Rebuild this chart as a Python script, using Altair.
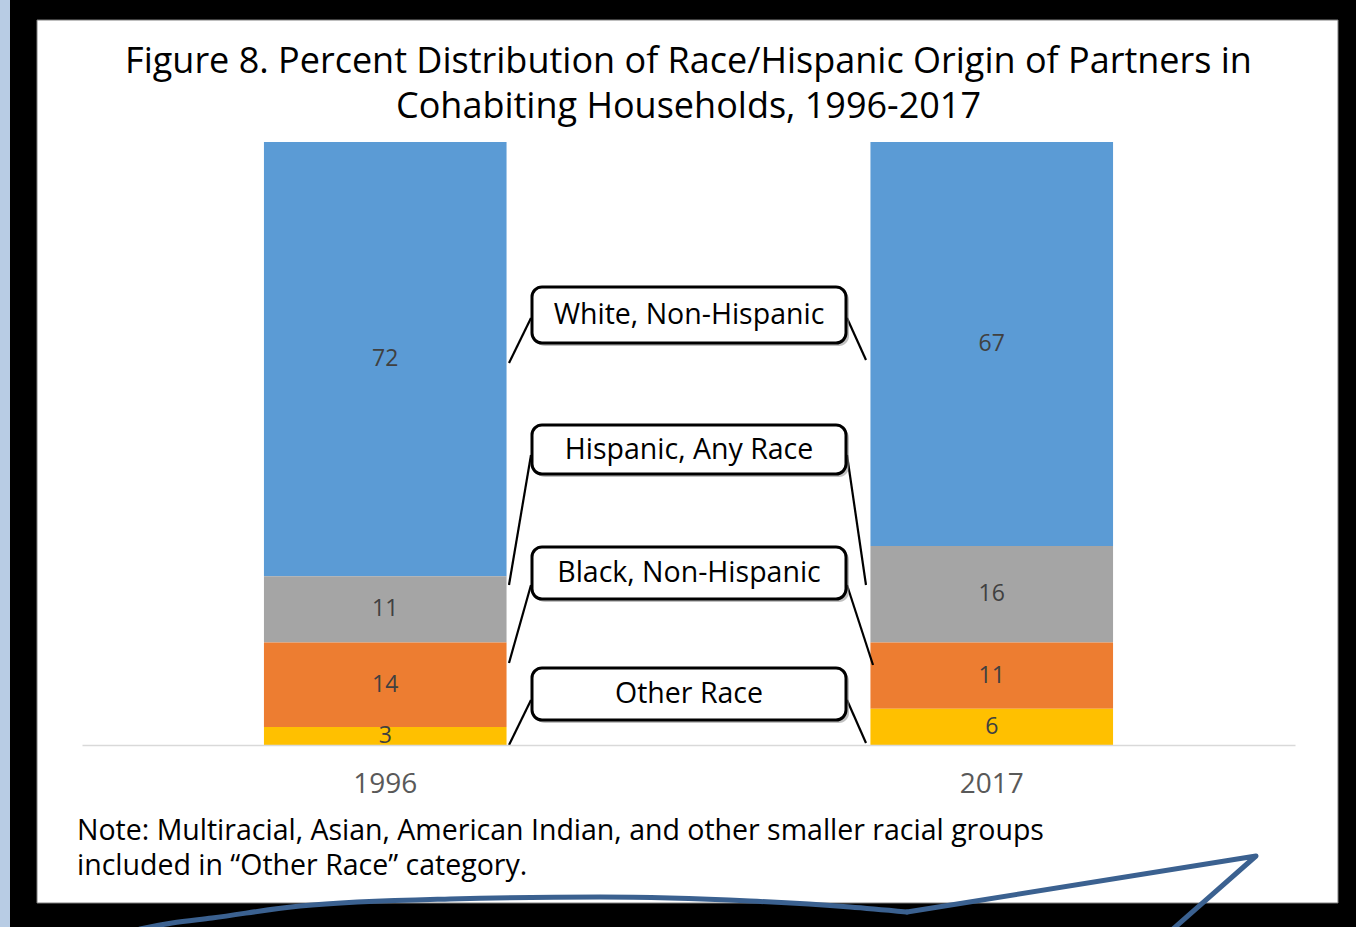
import altair as alt
import pandas as pd

# ---- data ----
years = ["1996", "1996", "1996", "1996", "2017", "2017", "2017", "2017"]
groups = ["White, Non-Hispanic", "Hispanic, Any Race", "Black, Non-Hispanic", "Other Race"] * 2
values = [72, 11, 14, 3, 67, 16, 11, 6]
stack_order = [3, 2, 1, 0, 3, 2, 1, 0]

group_names = ["White, Non-Hispanic", "Hispanic, Any Race", "Black, Non-Hispanic", "Other Race"]
group_colors = ["#5B9BD5", "#A5A5A5", "#ED7D31", "#FFC000"]

title_lines = ["Figure 8. Percent Distribution of Race/Hispanic Origin of Partners in",
               "Cohabiting Households, 1996-2017"]
note_text = "Note: Multiracial, Asian, American Indian, and other smaller racial groups\nincluded in \u201cOther Race\u201d category."

# ---- layout (pixels, plot-area coordinates) ----
W, H = 1213, 603
PAD = {"left": 82, "top": 142, "right": 61, "bottom": 182}
FONT = "Open Sans"

df = pd.DataFrame({"year": years, "group": groups, "value": values, "order": stack_order})

x_enc = alt.X("year:N", scale=alt.Scale(paddingInner=0.6, paddingOuter=0.3),
              axis=alt.Axis(title=None, labelAngle=0, ticks=False, domainColor="#D9D9D9",
                            domainWidth=1.5, labelColor="#595959", labelFontSize=28,
                            labelFont=FONT, labelPadding=25, zindex=2))
y_scale = alt.Scale(domain=[0, 100], nice=False, zero=True)

base = alt.Chart(df).transform_stack(
    stack="value", as_=["y0", "y1"], groupby=["year"], sort=[alt.SortField("order")]
).transform_calculate(mid="(datum.y0 + datum.y1) / 2")

bars = base.mark_bar().encode(
    x=x_enc,
    y=alt.Y("y0:Q", scale=y_scale, axis=None),
    y2="y1:Q",
    color=alt.Color("group:N", scale=alt.Scale(domain=group_names, range=group_colors), legend=None),
)

labels = base.mark_text(font=FONT, fontSize=23, color="#404040", baseline="middle").encode(
    x=alt.X("year:N"),
    y=alt.Y("mid:Q", scale=y_scale),
    text="value:Q",
)

# ---- decorations: slide frame ----
frame_df = pd.DataFrame({"k": [0]})
panel = alt.Chart(frame_df).mark_rect(color="white", stroke="#7F7F7F", strokeWidth=1).encode(
    x=alt.value(-45), x2=alt.value(1256), y=alt.value(-122), y2=alt.value(761))
strip = alt.Chart(frame_df).mark_rect(color="#B8CCE4").encode(
    x=alt.value(-82), x2=alt.value(-72), y=alt.value(-142), y2=alt.value(785))

curve_x = [58, 90, 130, 218, 368, 518, 668, 768, 825]
curve_y = [787, 781, 776, 764, 757, 755, 759, 765, 770]
curve_df = pd.DataFrame({"px": curve_x, "py": curve_y, "i": list(range(len(curve_x)))})
curve = alt.Chart(curve_df).mark_line(color="#3B6190", strokeWidth=5, interpolate="monotone",
                                      strokeJoin="round", strokeCap="round").encode(
    x=alt.X("px:Q", scale=None), y=alt.Y("py:Q", scale=None), order="i:Q")
tail_x = [825, 1174, 1091]
tail_y = [770, 714, 787]
tail_df = pd.DataFrame({"px": tail_x, "py": tail_y, "i": list(range(len(tail_x)))})
tail = alt.Chart(tail_df).mark_line(color="#3B6190", strokeWidth=5, interpolate="linear",
                                    strokeJoin="round", strokeCap="round").encode(
    x=alt.X("px:Q", scale=None), y=alt.Y("py:Q", scale=None), order="i:Q")

# ---- callouts ----
box_x0, box_x1 = 450, 764
box_top = [145, 283, 405, 526]
box_bot = [201, 332, 457, 578]
line_box_y = [176, 313, 443, 558]
line_left_end = [221, 443, 521, 603]
line_right_end = [218, 443, 523, 601]
line_right_x = [784, 784, 791, 784]

layers = [panel, strip, bars, labels]
for i, name in enumerate(group_names):
    one = alt.Chart(frame_df)
    layers.append(one.mark_rule(color="black", strokeWidth=2.2).encode(
        x=alt.value(box_x0 - 1), x2=alt.value(427), y=alt.value(line_box_y[i]), y2=alt.value(line_left_end[i])))
    layers.append(one.mark_rule(color="black", strokeWidth=2.2).encode(
        x=alt.value(box_x1 + 1), x2=alt.value(line_right_x[i]), y=alt.value(line_box_y[i]), y2=alt.value(line_right_end[i])))
    layers.append(one.mark_rect(color="#8C8C8C", opacity=0.55, cornerRadius=10).encode(
        x=alt.value(box_x0 + 3), x2=alt.value(box_x1 + 3), y=alt.value(box_top[i] + 3), y2=alt.value(box_bot[i] + 3)))
    layers.append(one.mark_rect(color="white", stroke="black", strokeWidth=3, cornerRadius=10).encode(
        x=alt.value(box_x0), x2=alt.value(box_x1), y=alt.value(box_top[i]), y2=alt.value(box_bot[i])))
    layers.append(one.mark_text(font=FONT, fontSize=28.5, color="black", baseline="middle", align="center").encode(
        x=alt.value((box_x0 + box_x1) / 2), y=alt.value((box_top[i] + box_bot[i]) / 2), text=alt.value(name)))

note = alt.Chart(frame_df).mark_text(font=FONT, fontSize=28.5, color="black", align="left",
                                     baseline="alphabetic", lineBreak="\n", lineHeight=35).encode(
    x=alt.value(-5), y=alt.value(698), text=alt.value(note_text))
layers += [note]

title_baselines = [-69, -24]
for line, yb in zip(title_lines, title_baselines):
    layers.append(alt.Chart(frame_df).mark_text(font=FONT, fontSize=36, color="black", align="center",
                                                baseline="alphabetic").encode(
        x=alt.value(W / 2), y=alt.value(yb), text=alt.value(line)))
layers += [curve, tail]

chart = alt.layer(*layers).properties(
    width=W, height=H,
    padding=PAD,
    autosize=alt.AutoSizeParams(type="none"),
    background="black",
).configure_view(stroke=None)

chart.save("out.html", embed_options={"renderer": "svg", "actions": False})
